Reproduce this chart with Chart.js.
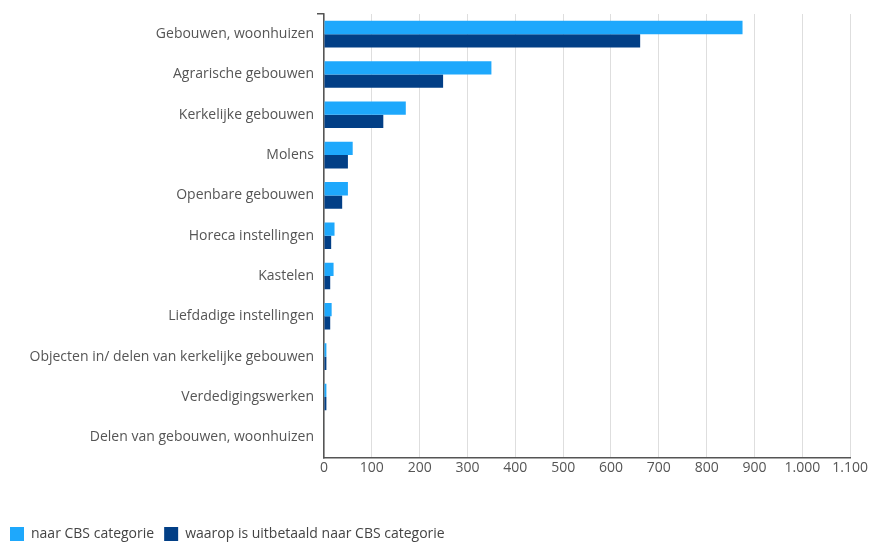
<!DOCTYPE html>
<html>
<head>
<meta charset="utf-8">
<script src="https://cdn.jsdelivr.net/npm/chart.js@4/dist/chart.umd.min.js"></script>
<style>
html,body{margin:0;padding:0;background:#fff;}
#wrap{width:870px;height:543px;position:relative;}
</style>
</head>
<body>
<div id="wrap"><canvas id="c"></canvas></div>
<script>
const categories = [
  "Gebouwen, woonhuizen",
  "Agrarische gebouwen",
  "Kerkelijke gebouwen",
  "Molens",
  "Openbare gebouwen",
  "Horeca instellingen",
  "Kastelen",
  "Liefdadige instellingen",
  "Objecten in/ delen van kerkelijke gebouwen",
  "Verdedigingswerken",
  "Delen van gebouwen, woonhuizen"
];
const naarCBS = [875, 350, 171, 60, 50, 22, 20, 16, 5, 5, 1];
const uitbetaald = [661, 249, 124, 50, 38, 15, 13, 13, 5, 5, 0];
const seriesNames = ["naar CBS categorie", "waarop is uitbetaald naar CBS categorie"];
const xMax = 1100;
const xStep = 100;

function fmt(v){ return String(v).replace(/\B(?=(\d{3})+(?!\d))/g, "."); }

Chart.defaults.font.family = "'Open Sans', Lato, sans-serif";
Chart.defaults.font.size = 14;
Chart.defaults.color = "#555";

const legendShift = {
  id: "legendShift",
  beforeLayout(chart) {
    const lg = chart.legend;
    if (lg && !lg._patched) {
      const orig = lg.fit;
      lg.fit = function () { orig.call(this); this.height -= 8; };
      lg._patched = true;
    }
  }
};

new Chart(document.getElementById("c"), {
  type: "bar",
  data: {
    labels: categories,
    datasets: [
      { label: seriesNames[0], data: naarCBS, backgroundColor: "#1ea8fc", categoryPercentage: 0.66, barPercentage: 1.0 },
      { label: seriesNames[1], data: uitbetaald, backgroundColor: "#023f86", categoryPercentage: 0.66, barPercentage: 1.0 }
    ]
  },
  options: {
    indexAxis: "y",
    responsive: true,
    maintainAspectRatio: false,
    animation: false,
    layout: { padding: { top: 14, right: 9, left: 0, bottom: 0 } },
    scales: {
      x: {
        min: 0, max: xMax,
        ticks: { stepSize: xStep, callback: v => fmt(v), padding: 2, color: "#555", font: { size: 14 } },
        grid: { color: "#dedede", drawTicks: false },
        border: { display: true, color: "#555", width: 1.5 },
        title: { display: true, text: "", padding: { top: 22, bottom: 0 } }
      },
      y: {
        afterFit: s => { s.width = 324; },
        ticks: { padding: 3, color: "#555", font: { size: 14 } },
        grid: {
          drawOnChartArea: false, drawTicks: true, tickLength: 7, offset: true,
          color: ctx => (ctx.index === 0 || ctx.index === categories.length) ? "#555" : "rgba(0,0,0,0)",
          lineWidth: 1.5
        },
        border: { display: true, color: "#555", width: 1.5 }
      }
    },
    plugins: {
      legend: {
        position: "bottom",
        align: "start",
        labels: { boxWidth: 14, boxHeight: 14, padding: 10, color: "#444", font: { size: 14 } }
      },
      tooltip: { enabled: false }
    }
  },
  plugins: [legendShift]
});
</script>
</body>
</html>
